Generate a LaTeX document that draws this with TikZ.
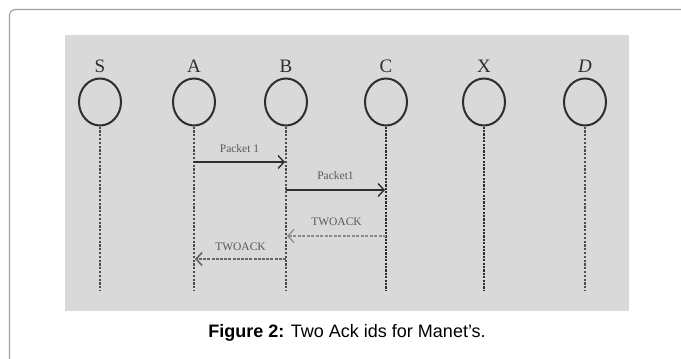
\documentclass[tikz,border=0pt]{standalone}
\usepackage{fontspec}
\setmainfont{Liberation Serif}
\newfontfamily\capfont{Liberation Sans}
\usetikzlibrary{arrows.meta,shapes.geometric}
\definecolor{panelgray}{HTML}{D9D9D9}
\definecolor{framegray}{HTML}{A0A0A0}
\definecolor{inkdark}{HTML}{2E2E2E}
\tikzset{
  station/.style={draw=inkdark, line width=2pt, ellipse, minimum width=42pt, minimum height=47pt, inner sep=0pt},
  stname/.style={font=\fontsize{19}{19}\selectfont, text=inkdark, inner sep=0pt},
  lifeline/.style={draw=inkdark!85, line width=1.1pt, dash pattern=on 2.2pt off 1.6pt},
  lifebold/.style={draw=inkdark, line width=1.7pt, dash pattern=on 2.2pt off 1.2pt},
  msg/.style={draw=inkdark, line width=1.4pt, -{Straight Barb[length=6pt,width=13pt,line width=1.4pt]}},
  ackthin/.style={draw=black!45, line width=1.3pt, dash pattern=on 3pt off 1.5pt,
    -{Straight Barb[length=6pt,width=13pt,line width=1.3pt]}},
  ackbold/.style={draw=black!60, line width=2.2pt, dash pattern=on 3pt off 1.2pt,
    -{Straight Barb[length=6pt,width=13pt,line width=1.6pt]}},
  msglabel/.style={font=\fontsize{11.5}{11.5}\selectfont, text=black!65, inner sep=0pt},
}
\begin{document}
\begin{tikzpicture}[x=1pt,y=-1pt]
  \useasboundingbox (0,0) rectangle (681,359);
  \fill[white] (0,0) rectangle (681,359);
  % outer frame, open to the right and bottom
  \draw[framegray, line width=1.2pt, rounded corners=6pt] (9.5,359) -- (9.5,9.5) -- (681,9.5);
  % gray panel
  \fill[panelgray] (65,35) rectangle (629,311);

  % stations
  \foreach \nm/\x/\lab in {s/100/S, a/194/A, b/286/B, c/386/C, x/484/X, d/585/\textit{D}} {
    \node[station] (\nm) at (\x,102) {};
    \node[stname] (\nm lab) at (\x,66) {\lab};
    \coordinate (\nm end) at (\x,291);
  }

  % lifelines
  \draw[lifeline] (s.south) -- (send);
  \draw[lifeline] (a.south) -- (aend);
  \draw[lifeline] (b.south) -- (bend);
  \draw[lifebold] (c.south) -- (cend);
  \draw[lifebold] (x.south) -- (xend);
  \draw[lifeline] (d.south) -- (dend);

  % message points on the lifelines
  \coordinate (a1) at (194,162);
  \coordinate (b1) at (285,162);
  \coordinate (b2) at (286,190);
  \coordinate (c2) at (385,190);
  \coordinate (c3) at (386,236);
  \coordinate (b3) at (287,236);
  \coordinate (b4) at (286,259);
  \coordinate (a4) at (195,259);

  \draw[msg] (a1) -- (b1) node[msglabel, midway, above=9pt] (l1) {Packet 1};
  \draw[msg] (b2) -- (c2) node[msglabel, midway, above=10pt] (l2) {Packet1};
  \draw[ackthin] (c3) -- (b3) node[msglabel, midway, above=10pt] (l3) {TWOACK};
  \draw[ackbold] (b4) -- (a4) node[msglabel, midway, above=7pt] (l4) {TWOACK};

  % caption
  \node[font=\capfont\fontsize{18}{18}\selectfont, anchor=base, inner sep=0pt] (cap) at (347,337)
    {\textbf{Figure 2:} Two Ack ids for Manet’s.};
\end{tikzpicture}
\end{document}
